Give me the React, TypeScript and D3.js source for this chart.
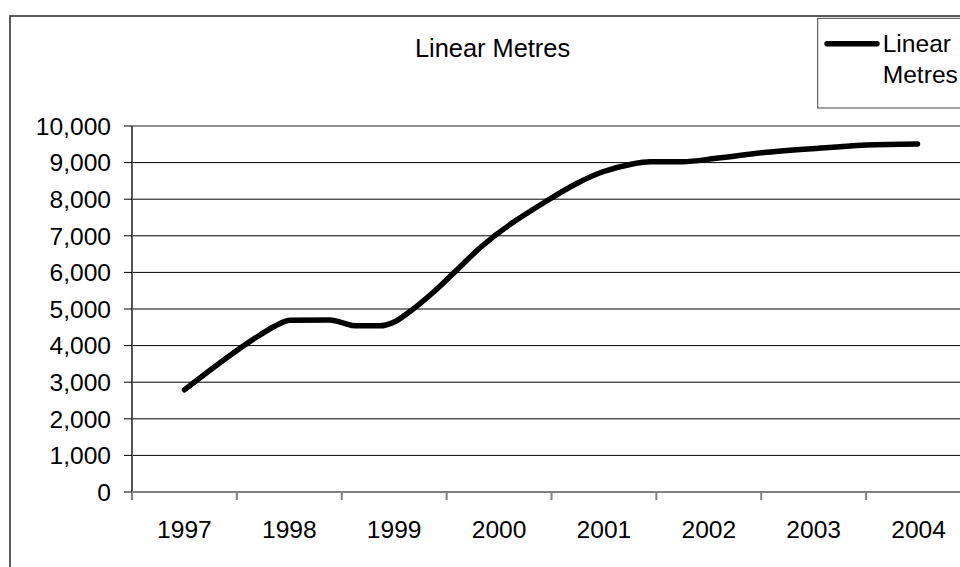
import React from "react";
import * as d3 from "d3";

// Data (decimal year position, linear metres)
const years = [1997, 1998, 1999, 2000, 2001, 2002, 2003, 2004];
const yTicks = [0, 1000, 2000, 3000, 4000, 5000, 6000, 7000, 8000, 9000, 10000];
const pointYears = [
  1997.0, 1997.72, 1997.86, 1998.01, 1998.39, 1998.51, 1998.63, 1998.86,
  1999.01, 1999.15, 1999.37, 1999.53, 1999.83, 2000.47, 2000.74, 2000.99,
  2001.25, 2001.44, 2001.75, 2002.07, 2002.55, 2003.18, 2003.5, 2003.99,
];
const pointValues = [
  2790, 4290, 4530, 4690, 4700, 4620, 4540, 4540,
  4660, 4930, 5450, 5880, 6700, 7980, 8430, 8750,
  8950, 9025, 9025, 9117, 9281, 9418, 9481, 9508,
];
const seriesName = "Linear Metres";

const W = 960;
const H = 567;
const FONT = "'Liberation Sans', Arial, Helvetica, sans-serif";

export default function App() {
  const left = 132;
  const right = 971;
  const top = 126;
  const bottom = 492;

  const x = d3.scaleLinear().domain([years[0] - 0.5, years[years.length - 1] + 0.5]).range([left, right]);
  const y = d3.scaleLinear().domain([0, 10000]).range([bottom, top]);
  const fmt = d3.format(",");

  const line = d3
    .line<number>()
    .x((_, i) => x(pointYears[i]))
    .y((v) => y(v))
    .curve(d3.curveMonotoneX);

  const bandEdges = d3.range(years.length + 1).map((k) => years[0] - 0.5 + k);

  return (
    <svg
      width={W}
      height={H}
      style={{ position: "absolute", left: 0, top: 0, background: "#fff" }}
      fontFamily={FONT}
    >
      <rect x={0} y={0} width={W} height={H} fill="#fff" />
      {/* chart area border */}
      <rect x={10} y={16} width={965} height={620} fill="none" stroke="#333" strokeWidth={1.6} />

      {/* title */}
      <text x={492.5} y={56.7} textAnchor="middle" fontSize={25.4} fill="#000">
        {seriesName}
      </text>

      {/* gridlines */}
      {yTicks
        .filter((t) => t > 0 && t < 10000)
        .map((t) => (
          <line key={"g" + t} x1={left} x2={right} y1={y(t)} y2={y(t)} stroke="#000" strokeWidth={1} />
        ))}
      {/* plot area top border */}
      <line x1={left} x2={right} y1={top} y2={top} stroke="#909090" strokeWidth={2} />

      {/* y axis */}
      <line x1={left} x2={left} y1={top} y2={bottom} stroke="#555" strokeWidth={2} />
      {yTicks.map((t) => (
        <g key={"y" + t}>
          <line x1={left - 8} x2={left} y1={y(t)} y2={y(t)} stroke="#000" strokeWidth={1} />
          <text x={111} y={y(t)} dy="0.36em" textAnchor="end" fontSize={24.6} fill="#000">
            {fmt(t)}
          </text>
        </g>
      ))}

      {/* x axis */}
      <line x1={left} x2={right} y1={bottom} y2={bottom} stroke="#808080" strokeWidth={2} />
      {bandEdges.map((e) => (
        <line key={"xt" + e} x1={x(e)} x2={x(e)} y1={bottom} y2={bottom + 8} stroke="#808080" strokeWidth={2} />
      ))}
      {years.map((yr) => (
        <text key={"xl" + yr} x={x(yr)} y={538} textAnchor="middle" fontSize={24.6} fill="#000">
          {yr}
        </text>
      ))}

      {/* series line */}
      <path
        d={line(pointValues) || ""}
        fill="none"
        stroke="#000"
        strokeWidth={5.5}
        strokeLinecap="round"
        strokeLinejoin="round"
      />

      {/* legend */}
      <rect x={817.7} y={18.3} width={200} height={89.7} fill="#fff" stroke="#444" strokeWidth={1} />
      <line x1={827} x2={877} y1={43.7} y2={43.7} stroke="#000" strokeWidth={5.5} strokeLinecap="round" />
      <text x={882.7} y={52.3} fontSize={24.6} fill="#000">
        Linear
      </text>
      <text x={882.7} y={83.3} fontSize={24.6} fill="#000">
        Metres
      </text>
    </svg>
  );
}
